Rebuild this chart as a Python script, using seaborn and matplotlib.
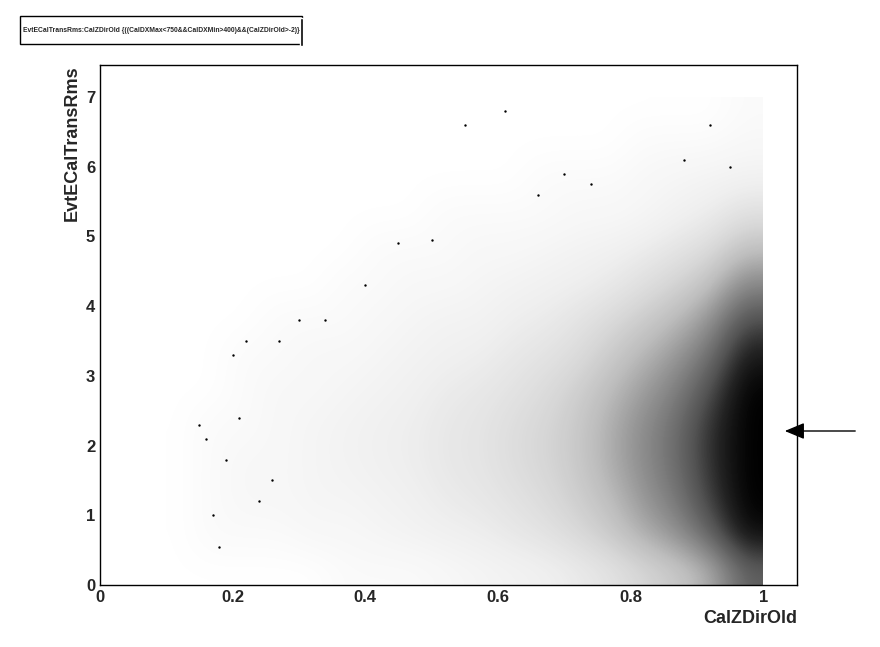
import matplotlib
matplotlib.use("Agg")
import matplotlib.pyplot as plt
import numpy as np
import seaborn as sns
from matplotlib.colors import PowerNorm
from matplotlib.patches import Rectangle, FancyArrowPatch

sns.set_theme(style="white")
plt.rcParams["font.family"] = ["Liberation Sans", "DejaVu Sans"]

# estimated point density (darkness 0..1), rows = y bins 0..7 step 0.5,
# columns = x bins 0.10..1.00 step 0.05
x_edges = (0.10, 1.00)
y_edges = (0.0, 7.0)
density = [
    [0, 0, 0, 0, 0, .01, .01, .01, .02, .03, .04, .05, .07, .10, .15, .20, .30, .60],
    [0, .01, .01, .01, .02, .02, .03, .04, .05, .06, .08, .10, .14, .20, .30, .40, .60, .95],
    [0, .01, .02, .02, .03, .03, .04, .05, .07, .08, .10, .13, .18, .25, .38, .50, .75, 1],
    [0, .01, .02, .02, .03, .04, .05, .06, .08, .09, .12, .15, .20, .30, .42, .55, .80, 1],
    [0, .01, .01, .02, .03, .04, .05, .06, .08, .09, .12, .15, .20, .30, .42, .55, .80, 1],
    [0, 0, .01, .02, .02, .03, .04, .05, .07, .08, .10, .13, .18, .26, .36, .48, .70, 1],
    [0, 0, .01, .01, .02, .02, .03, .04, .05, .06, .08, .10, .13, .20, .28, .38, .55, .90],
    [0, 0, 0, .01, .01, .01, .02, .03, .04, .04, .06, .07, .10, .14, .20, .27, .40, .70],
    [0, 0, 0, 0, 0, .01, .01, .02, .02, .03, .04, .05, .06, .08, .12, .17, .25, .45],
    [0, 0, 0, 0, 0, 0, .01, .01, .01, .02, .02, .03, .04, .05, .07, .10, .14, .25],
    [0, 0, 0, 0, 0, 0, 0, 0, .01, .01, .01, .01, .02, .02, .03, .05, .07, .12],
    [0, 0, 0, 0, 0, 0, 0, 0, 0, 0, 0, .01, .01, .01, .02, .03, .04, .05],
    [0, 0, 0, 0, 0, 0, 0, 0, 0, 0, 0, 0, 0, 0, .01, .01, .01, .02],
    [0, 0, 0, 0, 0, 0, 0, 0, 0, 0, 0, 0, 0, 0, 0, 0, 0, .01],
]

# sparse outliers
out_x = [0.15, 0.16, 0.55, 0.61, 0.92, 0.20, 0.22, 0.17, 0.18, 0.45, 0.50, 0.66,
         0.70, 0.74, 0.30, 0.34, 0.27, 0.21, 0.19, 0.26, 0.24, 0.40, 0.88, 0.95]
out_y = [2.30, 2.10, 6.60, 6.80, 6.60, 3.30, 3.50, 1.00, 0.55, 4.90, 4.95, 5.60,
         5.90, 5.75, 3.80, 3.80, 3.50, 2.40, 1.80, 1.50, 1.20, 4.30, 6.10, 6.00]

fig = plt.figure(figsize=(8.8, 6.47), dpi=100)
ax = fig.add_axes([100 / 880, 1 - 585 / 647, 697 / 880, 520 / 647])

ax.imshow(np.array(density), origin="lower", cmap="Greys",
          norm=PowerNorm(gamma=0.7, vmin=0, vmax=1),
          extent=(*x_edges, *y_edges), aspect="auto", interpolation="bicubic")
sns.scatterplot(x=out_x, y=out_y, s=3, color="black", linewidth=0, ax=ax)

ax.set_xlim(0, 1.051)
ax.set_ylim(0, 7.46)
ax.set_xticks([0, 0.2, 0.4, 0.6, 0.8, 1.0])
ax.set_xticklabels(["0", "0.2", "0.4", "0.6", "0.8", "1"])
ax.set_yticks(range(8))
ax.set_xticks(np.arange(0, 1.05, 0.05), minor=True)
ax.set_yticks(np.arange(0, 7.4, 0.5), minor=True)
ax.tick_params(which="both", direction="in", top=False, right=False, length=10,
               labelsize=12, width=1)
ax.tick_params(which="minor", length=5)
for lab in ax.get_xticklabels() + ax.get_yticklabels():
    lab.set_fontweight("bold")
for s in ax.spines.values():
    s.set_color("black")
    s.set_linewidth(1)
ax.set_xlabel("CalZDirOld", fontsize=13, fontweight="bold", loc="right")
ax.set_ylabel("EvtECalTransRms", fontsize=13, fontweight="bold", loc="top")

# title box
fig.patches.append(Rectangle((20 / 880, 1 - 44 / 647), 282 / 880, 28 / 647,
                             transform=fig.transFigure, facecolor="white",
                             edgecolor="black", linewidth=1))
fig.patches.append(Rectangle((300 / 880, 1 - 46 / 647), 3 / 880, 28 / 647,
                             transform=fig.transFigure, facecolor="black"))
fig.text(161 / 880, 1 - 30 / 647,
         "EvtECalTransRms:CalZDirOld {((CalDXMax<750&&CalDXMin>400)&&(CalZDirOld>-2)}",
         ha="center", va="center", fontsize=4.9, fontweight="bold")

# arrow on the right
fig.add_artist(FancyArrowPatch(
    (858 / 880, 1 - 431 / 647), (782 / 880, 1 - 431 / 647),
    transform=fig.transFigure, arrowstyle="-|>,head_length=12,head_width=5",
    color="black", linewidth=1))

fig.savefig("out.png", dpi=100)
